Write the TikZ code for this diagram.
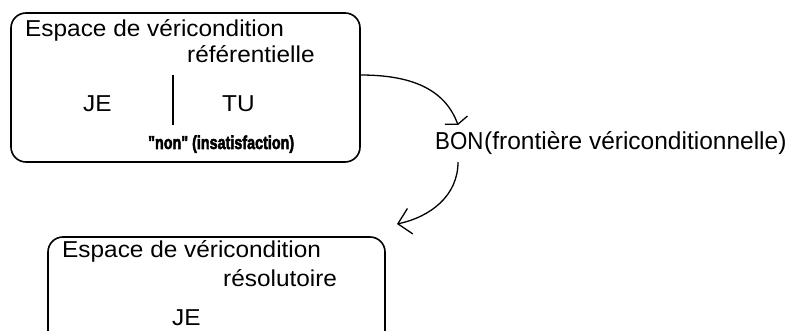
\documentclass[tikz,border=0pt]{standalone}
\usepackage{fontspec}
\usepackage{graphicx}
\setmainfont{Liberation Sans}
\newfontfamily\heavyfont[FakeBold=3]{Liberation Sans Bold}
\usetikzlibrary{arrows.meta}
\newcommand\boxtxt[1]{\scalebox{1.06}[1]{\fontsize{23}{26}\selectfont #1}}
\begin{document}
\begin{tikzpicture}[x=1pt,y=-1pt,
  frame/.style={draw=black,line width=1.6pt,rounded corners=15pt},
  txt/.style={inner sep=0pt,anchor=base west},
  conn/.style={draw=black,line width=1.3pt}]
\useasboundingbox (0,0) rectangle (790,331);
\clip (0,0) rectangle (790,331);
% box 1
\draw[frame] (11,13) rectangle (360,162);
\node[txt] (t1a) at (25,37) {\boxtxt{Espace de véricondition}};
\node[txt] (t1b) at (187,63) {\boxtxt{référentielle}};
\node[txt] (je1) at (83,112) {\boxtxt{JE}};
\node[txt] (tu1) at (222,112) {\boxtxt{TU}};
\coordinate (sepTop) at (173,75);
\coordinate (sepBot) at (173,125);
\draw[line width=1.6pt] (sepTop) -- (sepBot);
\node[txt] (non) at (148,149) {\resizebox{146pt}{13.5pt}{\heavyfont "non" (insatisfaction)}};
% box 2
\draw[frame] (48,237) rectangle (385,360);
\node[txt] (t2a) at (62,258) {\boxtxt{Espace de véricondition}};
\node[txt] (t2b) at (223,287) {\boxtxt{résolutoire}};
\node[txt] (je2) at (172,325) {\boxtxt{JE}};
% BON
\node[txt] (bon) at (435,150) {\scalebox{0.91}[1]{\fontsize{24.5}{28}\selectfont BON}};
\node[txt] (front) at (484,150) {\fontsize{24.5}{28}\selectfont (frontière vériconditionnelle)};
% connectors
\coordinate (a1s) at (360,75);
\coordinate (a1e) at (458,125);
\coordinate (a2s) at (458,162);
\coordinate (a2e) at (397,224);
\draw[conn,-{Straight Barb[length=4.5pt,width=24pt,line width=1.3pt]}] (a1s) to[out=0,in=110] (a1e);
\draw[conn,-{Straight Barb[length=12.5pt,width=26pt,line width=1.3pt]}] (a2s) to[out=-90,in=12] (a2e);
\end{tikzpicture}
\end{document}
